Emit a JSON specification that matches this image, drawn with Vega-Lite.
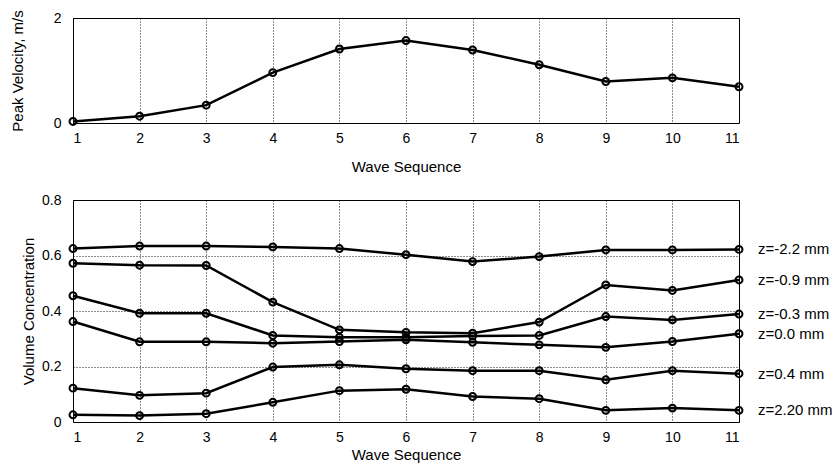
{
  "$schema": "https://vega.github.io/schema/vega-lite/v6.json",
  "background": "white",
  "padding": {"left": 9, "top": 9, "right": 5, "bottom": 5},
  "spacing": 17,
  "config": {
    "font": "Liberation Sans",
    "view": {"stroke": "black", "strokeWidth": 1},
    "axis": {
      "grid": true,
      "gridColor": "black",
      "gridDash": [1, 2],
      "gridOpacity": 0.9,
      "gridWidth": 1,
      "ticks": false,
      "domain": false,
      "labelFont": "Liberation Sans",
      "labelFontSize": 14,
      "labelColor": "black",
      "titleFont": "Liberation Sans",
      "titleFontSize": 15,
      "titleFontWeight": "normal",
      "titleColor": "black"
    }
  },
  "datasets": {
    "velocity": [
      {"wave": 1, "v": 0.03}, {"wave": 2, "v": 0.13}, {"wave": 3, "v": 0.34},
      {"wave": 4, "v": 0.96}, {"wave": 5, "v": 1.41}, {"wave": 6, "v": 1.57},
      {"wave": 7, "v": 1.39}, {"wave": 8, "v": 1.11}, {"wave": 9, "v": 0.79},
      {"wave": 10, "v": 0.86}, {"wave": 11, "v": 0.69}
    ],
    "conc": [
      {"z": "z=-2.2 mm", "wave": 1, "c": 0.625}, {"z": "z=-2.2 mm", "wave": 2, "c": 0.634}, {"z": "z=-2.2 mm", "wave": 3, "c": 0.634}, {"z": "z=-2.2 mm", "wave": 4, "c": 0.631}, {"z": "z=-2.2 mm", "wave": 5, "c": 0.625}, {"z": "z=-2.2 mm", "wave": 6, "c": 0.603}, {"z": "z=-2.2 mm", "wave": 7, "c": 0.578}, {"z": "z=-2.2 mm", "wave": 8, "c": 0.596}, {"z": "z=-2.2 mm", "wave": 9, "c": 0.620}, {"z": "z=-2.2 mm", "wave": 10, "c": 0.620}, {"z": "z=-2.2 mm", "wave": 11, "c": 0.622},
      {"z": "z=-0.9 mm", "wave": 1, "c": 0.572}, {"z": "z=-0.9 mm", "wave": 2, "c": 0.565}, {"z": "z=-0.9 mm", "wave": 3, "c": 0.564}, {"z": "z=-0.9 mm", "wave": 4, "c": 0.432}, {"z": "z=-0.9 mm", "wave": 5, "c": 0.332}, {"z": "z=-0.9 mm", "wave": 6, "c": 0.323}, {"z": "z=-0.9 mm", "wave": 7, "c": 0.320}, {"z": "z=-0.9 mm", "wave": 8, "c": 0.360}, {"z": "z=-0.9 mm", "wave": 9, "c": 0.494}, {"z": "z=-0.9 mm", "wave": 10, "c": 0.474}, {"z": "z=-0.9 mm", "wave": 11, "c": 0.512},
      {"z": "z=-0.3 mm", "wave": 1, "c": 0.455}, {"z": "z=-0.3 mm", "wave": 2, "c": 0.392}, {"z": "z=-0.3 mm", "wave": 3, "c": 0.392}, {"z": "z=-0.3 mm", "wave": 4, "c": 0.312}, {"z": "z=-0.3 mm", "wave": 5, "c": 0.305}, {"z": "z=-0.3 mm", "wave": 6, "c": 0.305}, {"z": "z=-0.3 mm", "wave": 7, "c": 0.310}, {"z": "z=-0.3 mm", "wave": 8, "c": 0.312}, {"z": "z=-0.3 mm", "wave": 9, "c": 0.380}, {"z": "z=-0.3 mm", "wave": 10, "c": 0.368}, {"z": "z=-0.3 mm", "wave": 11, "c": 0.389},
      {"z": "z=0.0 mm", "wave": 1, "c": 0.362}, {"z": "z=0.0 mm", "wave": 2, "c": 0.289}, {"z": "z=0.0 mm", "wave": 3, "c": 0.289}, {"z": "z=0.0 mm", "wave": 4, "c": 0.284}, {"z": "z=0.0 mm", "wave": 5, "c": 0.290}, {"z": "z=0.0 mm", "wave": 6, "c": 0.296}, {"z": "z=0.0 mm", "wave": 7, "c": 0.287}, {"z": "z=0.0 mm", "wave": 8, "c": 0.278}, {"z": "z=0.0 mm", "wave": 9, "c": 0.269}, {"z": "z=0.0 mm", "wave": 10, "c": 0.290}, {"z": "z=0.0 mm", "wave": 11, "c": 0.318},
      {"z": "z=0.4 mm", "wave": 1, "c": 0.122}, {"z": "z=0.4 mm", "wave": 2, "c": 0.096}, {"z": "z=0.4 mm", "wave": 3, "c": 0.104}, {"z": "z=0.4 mm", "wave": 4, "c": 0.198}, {"z": "z=0.4 mm", "wave": 5, "c": 0.206}, {"z": "z=0.4 mm", "wave": 6, "c": 0.192}, {"z": "z=0.4 mm", "wave": 7, "c": 0.185}, {"z": "z=0.4 mm", "wave": 8, "c": 0.185}, {"z": "z=0.4 mm", "wave": 9, "c": 0.152}, {"z": "z=0.4 mm", "wave": 10, "c": 0.185}, {"z": "z=0.4 mm", "wave": 11, "c": 0.174},
      {"z": "z=2.20 mm", "wave": 1, "c": 0.026}, {"z": "z=2.20 mm", "wave": 2, "c": 0.023}, {"z": "z=2.20 mm", "wave": 3, "c": 0.030}, {"z": "z=2.20 mm", "wave": 4, "c": 0.071}, {"z": "z=2.20 mm", "wave": 5, "c": 0.113}, {"z": "z=2.20 mm", "wave": 6, "c": 0.118}, {"z": "z=2.20 mm", "wave": 7, "c": 0.092}, {"z": "z=2.20 mm", "wave": 8, "c": 0.084}, {"z": "z=2.20 mm", "wave": 9, "c": 0.042}, {"z": "z=2.20 mm", "wave": 10, "c": 0.050}, {"z": "z=2.20 mm", "wave": 11, "c": 0.042}
    ]
  },
  "vconcat": [
    {
      "width": 666,
      "height": 105,
      "data": {"name": "velocity"},
      "encoding": {
        "x": {"field": "wave", "type": "quantitative", "scale": {"domain": [1, 11], "nice": false},
              "axis": {"values": [1,2,3,4,5,6,7,8,9,10,11], "title": "Wave Sequence", "labelPadding": 8, "titlePadding": 14}},
        "y": {"field": "v", "type": "quantitative", "scale": {"domain": [0, 2], "nice": false},
              "axis": {"values": [0, 1, 2], "format": "d", "title": "Peak Velocity, m/s", "labelPadding": 12, "titleX": -48}}
      },
      "layer": [
        {"mark": {"type": "line", "color": "black", "strokeWidth": 2.5}},
        {"mark": {"type": "point", "shape": "circle", "filled": false, "color": "black", "strokeWidth": 2, "size": 48, "opacity": 1}}
      ]
    },
    {
      "width": 666,
      "height": 222,
      "data": {"name": "conc"},
      "encoding": {
        "x": {"field": "wave", "type": "quantitative", "scale": {"domain": [1, 11], "nice": false},
              "axis": {"values": [1,2,3,4,5,6,7,8,9,10,11], "title": "Wave Sequence", "labelPadding": 8, "titlePadding": 3}},
        "y": {"field": "c", "type": "quantitative", "scale": {"domain": [0, 0.8], "nice": false},
              "axis": {"values": [0, 0.2, 0.4, 0.6, 0.8], "format": "~g", "title": "Volume Concentration", "labelPadding": 12, "titleX": -37}}
      },
      "layer": [
        {"mark": {"type": "line", "color": "black", "strokeWidth": 2.5}, "encoding": {"detail": {"field": "z"}}},
        {"mark": {"type": "point", "shape": "circle", "filled": false, "color": "black", "strokeWidth": 2, "size": 48, "opacity": 1}},
        {"transform": [{"filter": "datum.wave == 11"}],
         "mark": {"type": "text", "align": "left", "baseline": "middle", "dx": 19, "fontSize": 15, "font": "Liberation Sans", "color": "black"},
         "encoding": {"text": {"field": "z"}}}
      ]
    }
  ]
}
